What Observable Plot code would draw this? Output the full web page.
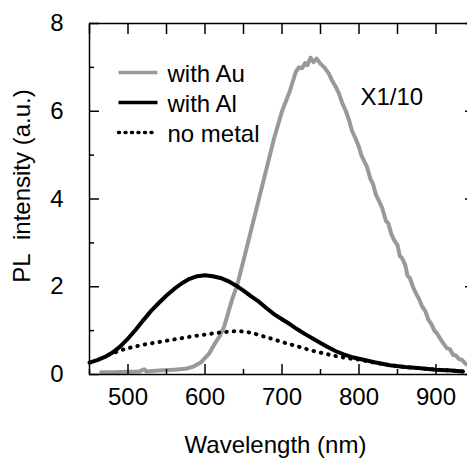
<!DOCTYPE html>
<html><head><meta charset="utf-8">
<script src="https://cdn.jsdelivr.net/npm/d3@7"></script>
<script src="https://cdn.jsdelivr.net/npm/@observablehq/plot@0.6"></script>
<style>body{margin:0;background:#fff}</style>
</head><body><div id="chart"></div>
<script>
// ---- data ----
const auWl = [465,480,500,515,521,524,540,560,575,585,595,605,612,620,625,630,635,642,650,660,670,680,690,700,710,718,722,726,730,733,737,741,745,750,755,761,765,770,774,778,783,787,791,795,800,803,807,810,815,818,822,826,830,835,838,842,846,850,853,856,860,863,866,870,874,878,882,886,890,894,898,902,906,910,914,918,922,926,930,934,938,941];
const auPL = [0.05,0.05,0.06,0.07,0.12,0.07,0.09,0.11,0.13,0.18,0.28,0.47,0.68,0.90,1.1,1.4,1.7,2.05,2.6,3.3,4.0,4.7,5.4,6.0,6.45,6.9,7.0,6.98,7.1,7.05,7.22,7.12,7.2,7.08,7.0,6.85,6.7,6.55,6.4,6.2,6.0,5.8,5.55,5.4,5.18,5.0,4.85,4.75,4.45,4.35,4.1,3.95,3.8,3.5,3.45,3.2,3.05,2.95,2.7,2.65,2.5,2.25,2.2,2.0,1.85,1.72,1.55,1.45,1.25,1.15,1.0,0.92,0.8,0.7,0.6,0.58,0.45,0.43,0.35,0.33,0.25,0.22];

const alWl = [450,460,470,480,490,500,510,520,530,540,550,560,570,580,590,600,610,620,630,640,650,660,670,680,690,700,710,720,730,740,750,760,770,780,790,800,820,840,860,880,900,920,935];
const alPL = [0.27,0.33,0.40,0.50,0.64,0.82,1.02,1.24,1.45,1.63,1.80,1.95,2.08,2.18,2.24,2.26,2.24,2.20,2.13,2.03,1.91,1.78,1.66,1.51,1.37,1.26,1.15,1.03,0.92,0.82,0.72,0.62,0.53,0.46,0.40,0.36,0.28,0.21,0.17,0.14,0.11,0.09,0.07];

const noWl = [475,490,500,520,540,560,580,600,620,640,650,660,670,680,700,720,740,757,775,790,800,820,840,860,880,900,920,935];
const noPL = [0.45,0.55,0.60,0.68,0.74,0.80,0.86,0.91,0.96,0.99,0.98,0.95,0.90,0.85,0.74,0.64,0.54,0.47,0.40,0.36,0.34,0.27,0.21,0.17,0.14,0.11,0.09,0.07];

const xMajor = [500,600,700,800,900];
const xMinor = [450,550,650,750,850,950];
const yMajor = [0,2,4,6,8];
const yMinor = [1,3,5,7];
const legendLabels = ["with Au","with Al","no metal"];
const legendColors = ["#999999","#000000","#000000"];
const legendDash = [null,null,"1,5.5"];
const xLabel = "Wavelength (nm)";
const yLabel = "PL\u00a0 intensity (a.u.)";
const note = "X1/10";

const toRows = (ws, vs) => ws.map((w, i) => ({w, v: vs[i]}));
const au = toRows(auWl, auPL), al = toRows(alWl, alPL), none = toRows(noWl, noPL);

const blank = () => "";
const lineShape = {draw(ctx, l) { ctx.moveTo(0, 0); ctx.lineTo(0, -l); }};
const legendRowDy = [49, 79, 109];

const legendMarks = legendLabels.flatMap((lab, i) => [
  Plot.vector([lab], {frameAnchor: "top-left", dx: 29, dy: legendRowDy[i], rotate: 90, length: 39,
    anchor: "start", shape: lineShape, stroke: legendColors[i], strokeWidth: 3.5,
    strokeLinecap: legendDash[i] ? "round" : "butt",
    strokeDasharray: legendDash[i] ?? undefined}),
  Plot.text([lab], {text: d => d, frameAnchor: "top-left", dx: 78, dy: legendRowDy[i] + 1.5,
    textAnchor: "start", lineAnchor: "middle", fill: "#000"})
]);

const chart = Plot.plot({
  width: 467, height: 458,
  marginLeft: 89, marginRight: -7, marginTop: 23, marginBottom: 84,
  style: {fontFamily: "'Liberation Sans', Arial, sans-serif", fontSize: "24px", color: "#000", background: "#fff"},
  x: {domain: [450, 950], axis: null},
  y: {domain: [0, 8], axis: null},
  marks: [
    Plot.line(au, {x: "w", y: "v", stroke: "#999999", strokeWidth: 4}),
    Plot.line(none, {x: "w", y: "v", stroke: "#000", strokeWidth: 4, strokeLinecap: "round", strokeDasharray: "0.5,7"}),
    Plot.line(al, {x: "w", y: "v", stroke: "#000", strokeWidth: 4}),
    Plot.frame({stroke: "#000", strokeWidth: 1.5}),
    // bottom axis labels + inward ticks
    Plot.axisX(xMajor, {anchor: "bottom", tickSize: 0, tickPadding: 13, label: null, fontSize: 24}),
    Plot.axisX(xMajor, {anchor: "bottom", tickSize: -10, tickFormat: blank, label: null, strokeWidth: 1.5}),
    Plot.axisX(xMinor, {anchor: "bottom", tickSize: -5, tickFormat: blank, label: null, strokeWidth: 1.5}),
    Plot.axisX(xMajor.concat(xMinor), {anchor: "top", tickSize: -10, tickFormat: blank, label: null, strokeWidth: 1.5}),
    // left axis labels + inward ticks
    Plot.axisY(yMajor, {anchor: "left", tickSize: 0, tickPadding: 26, label: null, fontSize: 24}),
    Plot.axisY(yMajor, {anchor: "left", tickSize: -10, tickFormat: blank, label: null, strokeWidth: 1.5}),
    Plot.axisY(yMinor, {anchor: "left", tickSize: -5, tickFormat: blank, label: null, strokeWidth: 1.5}),
    Plot.axisY(yMajor, {anchor: "right", tickSize: -10, tickFormat: blank, label: null, strokeWidth: 1.5}),
    Plot.axisY(yMinor, {anchor: "right", tickSize: -5, tickFormat: blank, label: null, strokeWidth: 1.5}),
    // axis titles
    Plot.text([xLabel], {text: d => d, frameAnchor: "bottom", dx: -6.5, dy: 71, textAnchor: "middle", lineAnchor: "middle", fill: "#000"}),
    Plot.text([yLabel], {text: d => d, frameAnchor: "left", rotate: -90, dx: -66.7, dy: -13, textAnchor: "middle", lineAnchor: "middle", fill: "#000"}),
    Plot.text([note], {text: d => d, frameAnchor: "top-left", dx: 271, dy: 74.3, textAnchor: "start", lineAnchor: "middle", fill: "#000"}),
    ...legendMarks
  ]
});
document.getElementById("chart").append(chart);
</script>
</body></html>
